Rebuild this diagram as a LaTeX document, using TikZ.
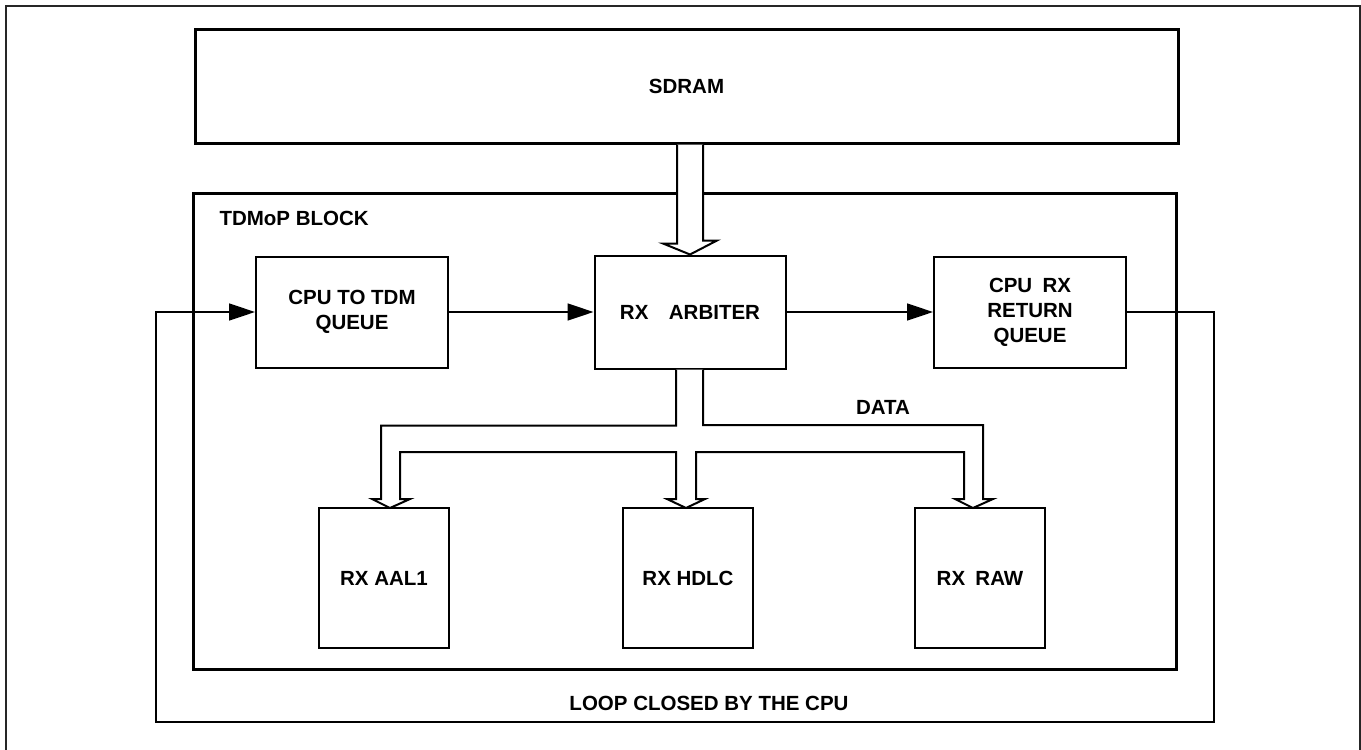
\documentclass[tikz,border=0pt]{standalone}
\usepackage{fontspec}
\setmainfont{Liberation Sans}
\usepackage{tikz}
\usetikzlibrary{arrows.meta,calc,positioning}

\tikzset{
  blk/.style={draw,line width=2pt,minimum width=192pt,minimum height=111pt,align=center},
  bigblk/.style={draw,line width=3pt,minimum width=983pt},
  rxblk/.style={draw,line width=2pt,minimum width=130pt,minimum height=140pt},
  flow/.style={line width=1.5pt,-{Triangle[length=26pt,width=17pt]}},
  bus/.style={draw,fill=white,line width=2pt,line join=miter}
}

\begin{document}
\begin{tikzpicture}[x=1pt,y=-1pt,font=\fontsize{20.5}{25}\selectfont\bfseries]
  \useasboundingbox (0,0) rectangle (1361,750);
  \draw[line width=1.5pt,black!85] (6,6) rectangle (1360,770);
  % memory and block outline
  \node[bigblk,minimum height=114pt] (sdram) at (686.5,86) {SDRAM};
  \node[bigblk,minimum height=476pt] (tdmop) at (684.5,431) {};
  \node[anchor=west] (tdmoplbl) at (216,218) {TDMoP BLOCK};
  % queues and arbiter
  \node[blk] (cpuq) at (352,312) {CPU TO TDM\\QUEUE};
  \node[blk,minimum width=191pt,minimum height=113pt] (arb) at (690,312) {RX\quad ARBITER};
  \node[blk] (retq) at (1030,312) {CPU\enspace RX\\RETURN\\QUEUE};
  % receivers
  \node[rxblk] (aal) at (384,578) {RX AAL1};
  \node[rxblk] (hdlc) at (688,578) {RX HDLC};
  \node[rxblk] (raw) at (980,578) {RX\enspace RAW};
  % bus from sdram
  \draw[bus] ([xshift=-13pt]arb.north |- sdram.south) -- ++(0,99) -- ++(-14,0) -- (arb.north)
    -- ++(27,-14) -- ++(-14,0) -- ([xshift=13pt]arb.north |- sdram.south);
  % data bus to the receivers
  \coordinate (tipA) at (390,508);
  \coordinate (tipH) at (686,508);
  \coordinate (tipR) at (973,508);
  \draw[bus] ([xshift=-14pt]arb.south) -- ++(0,56) -| ($(tipA)+(-9,-9)$) -- ++(-9,0) -- (tipA)
    -- ++(20,-9) -- ++(-10,0) |- ($(tipH)+(-10,-56)$) -- ++(0,47) -- ++(-9,0) -- (tipH)
    -- ++(19,-9) -- ++(-9,0) |- ($(tipR)+(-9,-56)$) -- ++(0,47) -- ++(-9,0) -- (tipR)
    -- ++(20,-9) -- ++(-10,0) |- ([xshift=13pt]arb.south |- 0,425) -- ([xshift=13pt]arb.south);
  \node (data) at (883,407) {DATA};
  % flow
  \draw[flow] (cpuq) -- (arb);
  \draw[flow] (arb) -- (retq);
  \coordinate (loopR) at (1214,722);
  \coordinate (loopL) at (156,722);
  \draw[flow] (retq.east) -| (loopR) -- (loopL) |- (cpuq.west);
  \node (loopl) at (709,703) {LOOP CLOSED BY THE CPU};
\end{tikzpicture}
\end{document}
